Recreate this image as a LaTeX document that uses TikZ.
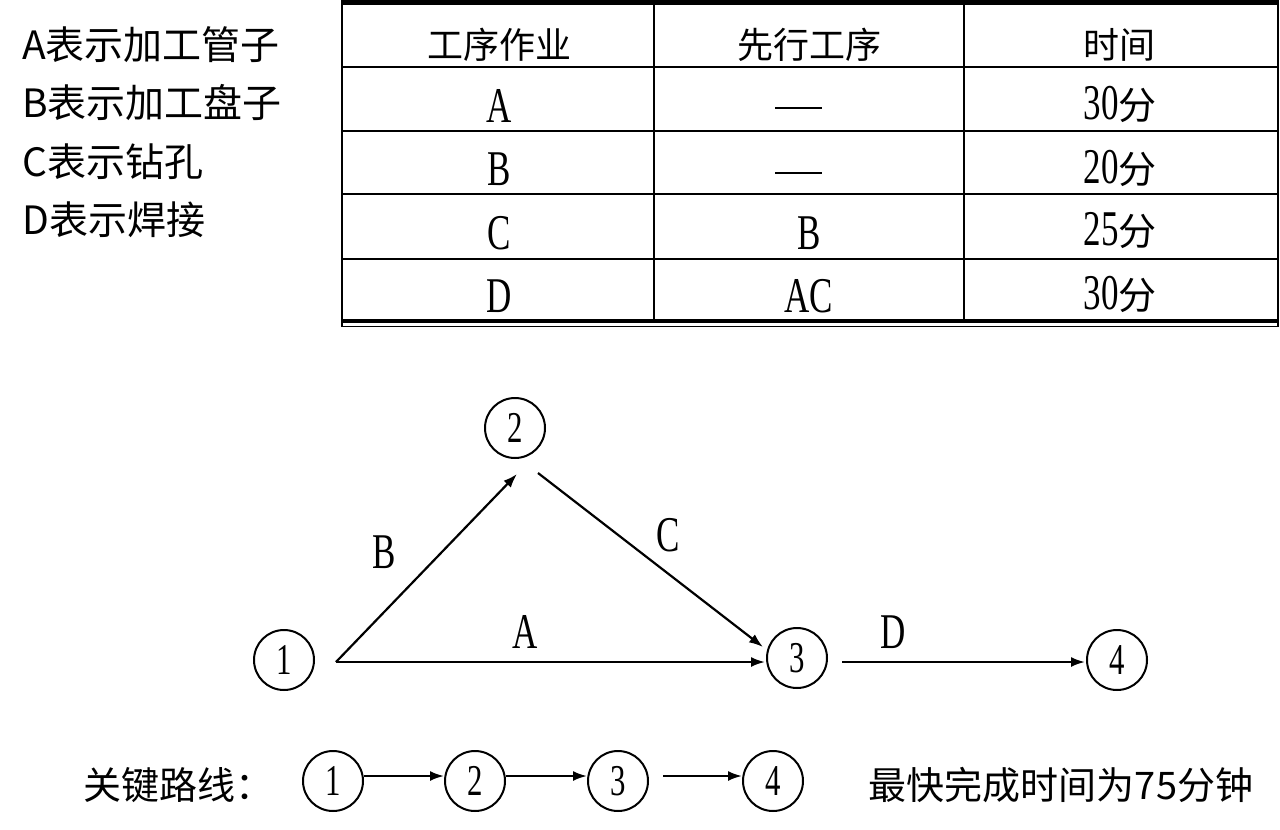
\documentclass[tikz,border=0pt]{standalone}
\usepackage{fontspec}
\setmainfont{Liberation Serif}
\newfontfamily\cjk{Noto Sans CJK SC}
\newfontfamily\cond[FakeStretch=0.7]{Liberation Serif}
\usetikzlibrary{arrows.meta}
\begin{document}
\begin{tikzpicture}[x=1pt,y=-1pt,
  side/.style={anchor=west,inner sep=0pt,font=\cjk\fontsize{39}{39}\selectfont},
  head/.style={inner sep=0pt,font=\cjk\fontsize{36}{36}\selectfont},
  cell/.style={inner sep=0pt,font=\cond\fontsize{50}{50}\selectfont},
  tline/.style={line width=2pt},
  circ/.style={circle,draw,line width=2pt,minimum size=60pt,inner sep=0pt,font=\cond\fontsize{44}{44}\selectfont},
  arr/.style={line width=2.2pt,-{Latex[length=14pt,width=10pt]}},
  elab/.style={inner sep=0pt,font=\cond\fontsize{50}{50}\selectfont},
  btxt/.style={inner sep=0pt,font=\cjk\fontsize{38}{38}\selectfont}]
\useasboundingbox[fill=white] (0,0) rectangle (1280,830);
% side labels
\node[side] (la) at (22,45) {A表示加工管子};
\node[side] (lb) at (22,103) {B表示加工盘子};
\node[side] (lc) at (22,162) {C表示钻孔};
\node[side] (ld) at (22,220) {D表示焊接};
% table
\draw[line width=5pt] (341,2) -- (1279,2);
\draw[tline] (342,0) -- (342,326);
\draw[tline] (1278,0) -- (1278,326);
\draw[tline] (654,0) -- (654,322);
\draw[tline] (964,0) -- (964,322);
\draw[tline] (342,67) -- (1278,67);
\draw[tline] (342,131) -- (1278,131);
\draw[tline] (342,194) -- (1278,194);
\draw[tline] (342,259) -- (1278,259);
\draw[line width=3.5pt] (341,321) -- (1279,321);
\draw[line width=1.2pt] (341,326.5) -- (1279,326.5);
\node[head] (h1) at (499,45) {工序作业};
\node[head] (h2) at (809,45) {先行工序};
\node[head] (h3) at (1119,45) {时间};
\node[cell] (a1) at (499,106) {A};
\node[cell] (b1c) at (499,169) {B};
\node[cell] (c1) at (499,233) {C};
\node[cell] (d1) at (499,296) {D};
\draw[line width=2.5pt] (775,108) -- (822,108);
\draw[line width=2.5pt] (775,173) -- (822,173);
\node[cell] (c2) at (809,233) {B};
\node[cell] (d2) at (809,296) {AC};
\node[cell] (a3) at (1120,104) {30{\cjk\fontsize{38}{38}\selectfont 分}};
\node[cell] (b3) at (1120,168) {20{\cjk\fontsize{38}{38}\selectfont 分}};
\node[cell] (c3) at (1120,231) {25{\cjk\fontsize{38}{38}\selectfont 分}};
\node[cell] (d3) at (1120,294) {30{\cjk\fontsize{38}{38}\selectfont 分}};
% network
\node[circ] (n1) at (284,660) {1};
\node[circ] (n2) at (515,428) {2};
\node[circ] (n3) at (797,658) {3};
\node[circ] (n4) at (1117,660) {4};
\coordinate (s1) at (336,662);
\coordinate (e2) at (517,474);
\coordinate (s2) at (538,473);
\coordinate (e3a) at (763,647);
\coordinate (e3) at (765,662);
\coordinate (s3) at (842,662);
\coordinate (e4) at (1085,662);
\draw[arr] (s1) -- (e2);
\draw[arr] (s2) -- (e3a);
\draw[arr] (s1) -- (e3);
\draw[arr] (s3) -- (e4);
\node[elab] (lB) at (384,552) {B};
\node[elab] (lC) at (668,535) {C};
\node[elab] (lA) at (525,632) {A};
\node[elab] (lD) at (893,632) {D};
% critical path
\node[btxt] (kp) at (178,785) {关键路线：};
\node[circ] (b1) at (333,781) {1};
\node[circ] (b2) at (475,781) {2};
\node[circ] (b3n) at (618,781) {3};
\node[circ] (b4) at (773,781) {4};
\coordinate (bs3) at (663,776);
\draw[arr] ([yshift=5pt]b1.east) -- ([yshift=5pt]b2.west);
\draw[arr] ([yshift=5pt]b2.east) -- ([yshift=5pt]b3n.west);
\draw[arr] (bs3) -- ([yshift=5pt]b4.west);
\node[btxt] (ft) at (1061,785) {最快完成时间为75分钟};
\end{tikzpicture}
\end{document}
